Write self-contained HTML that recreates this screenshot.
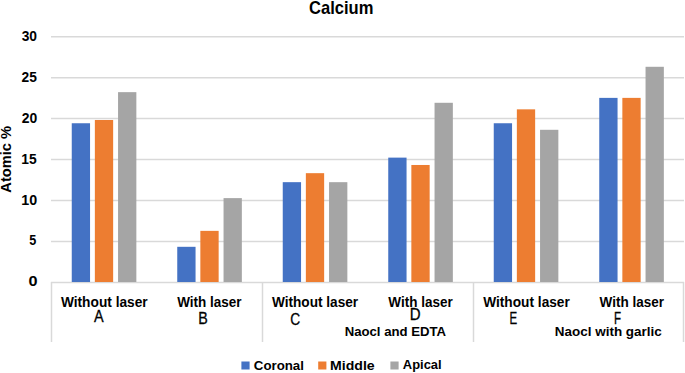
<!DOCTYPE html>
<html><head><meta charset="utf-8"><style>
html,body{margin:0;padding:0;background:#fff;}
body{width:685px;height:373px;overflow:hidden;}
svg{display:block;font-family:"Liberation Sans", sans-serif;}
</style></head><body>
<svg width="685" height="373" viewBox="0 0 685 373">
<rect width="685" height="373" fill="#fff"/>
<line x1="51" y1="241.45" x2="684" y2="241.45" stroke="#D9D9D9" stroke-width="1.5"/>
<line x1="51" y1="200.50" x2="684" y2="200.50" stroke="#D9D9D9" stroke-width="1.5"/>
<line x1="51" y1="159.55" x2="684" y2="159.55" stroke="#D9D9D9" stroke-width="1.5"/>
<line x1="51" y1="118.60" x2="684" y2="118.60" stroke="#D9D9D9" stroke-width="1.5"/>
<line x1="51" y1="77.65" x2="684" y2="77.65" stroke="#D9D9D9" stroke-width="1.5"/>
<line x1="51" y1="36.70" x2="684" y2="36.70" stroke="#D9D9D9" stroke-width="1.5"/>
<line x1="51" y1="282.5" x2="684" y2="282.5" stroke="#D9D9D9" stroke-width="1.5"/>
<rect x="71.75" y="123.25" width="18.3" height="158.75" fill="#4472C4"/>
<rect x="94.85" y="119.98" width="18.3" height="162.02" fill="#ED7D31"/>
<rect x="118.05" y="92.15" width="18.3" height="189.85" fill="#A5A5A5"/>
<rect x="177.25" y="246.81" width="18.3" height="35.19" fill="#4472C4"/>
<rect x="200.35" y="230.86" width="18.3" height="51.14" fill="#ED7D31"/>
<rect x="223.55" y="198.12" width="18.3" height="83.88" fill="#A5A5A5"/>
<rect x="282.75" y="182.17" width="18.3" height="99.83" fill="#4472C4"/>
<rect x="305.85" y="173.17" width="18.3" height="108.83" fill="#ED7D31"/>
<rect x="329.05" y="182.17" width="18.3" height="99.83" fill="#A5A5A5"/>
<rect x="388.25" y="157.62" width="18.3" height="124.38" fill="#4472C4"/>
<rect x="411.35" y="164.98" width="18.3" height="117.02" fill="#ED7D31"/>
<rect x="434.55" y="102.79" width="18.3" height="179.21" fill="#A5A5A5"/>
<rect x="493.75" y="123.25" width="18.3" height="158.75" fill="#4472C4"/>
<rect x="516.85" y="109.34" width="18.3" height="172.66" fill="#ED7D31"/>
<rect x="540.05" y="129.80" width="18.3" height="152.20" fill="#A5A5A5"/>
<rect x="599.25" y="97.88" width="18.3" height="184.12" fill="#4472C4"/>
<rect x="622.35" y="97.88" width="18.3" height="184.12" fill="#ED7D31"/>
<rect x="645.55" y="66.79" width="18.3" height="215.21" fill="#A5A5A5"/>
<line x1="51.5" y1="282" x2="51.5" y2="342" stroke="#D9D9D9" stroke-width="1.5"/>
<line x1="262.5" y1="282" x2="262.5" y2="342" stroke="#D9D9D9" stroke-width="1.5"/>
<line x1="473.5" y1="282" x2="473.5" y2="342" stroke="#D9D9D9" stroke-width="1.5"/>
<line x1="683.5" y1="282" x2="683.5" y2="342" stroke="#D9D9D9" stroke-width="1.5"/>
<text transform="translate(309.09,13.70) scale(0.9464,1)" font-size="17.5" font-weight="bold" fill="#000000">Calcium</text>
<text transform="translate(28.40,286.40) scale(1.1200,1)" font-size="14.5" font-weight="bold" fill="#000000">0</text>
<text transform="translate(29.26,245.49) scale(0.8702,1)" font-size="14.5" font-weight="bold" fill="#000000">5</text>
<text transform="translate(21.34,204.57) scale(0.9846,1)" font-size="14.5" font-weight="bold" fill="#000000">10</text>
<text transform="translate(21.36,163.66) scale(0.9546,1)" font-size="14.5" font-weight="bold" fill="#000000">15</text>
<text transform="translate(21.72,122.74) scale(0.9600,1)" font-size="14.5" font-weight="bold" fill="#000000">20</text>
<text transform="translate(21.52,81.83) scale(0.9508,1)" font-size="14.5" font-weight="bold" fill="#000000">25</text>
<text transform="translate(21.64,40.91) scale(0.9521,1)" font-size="14.5" font-weight="bold" fill="#000000">30</text>
<text transform="translate(60.90,306.60) scale(0.9810,1)" font-size="14" font-weight="bold" fill="#000000">Without laser</text>
<text transform="translate(177.20,306.60) scale(0.9651,1)" font-size="14" font-weight="bold" fill="#000000">With laser</text>
<text transform="translate(271.90,306.60) scale(0.9754,1)" font-size="14" font-weight="bold" fill="#000000">Without laser</text>
<text transform="translate(388.30,306.60) scale(0.9666,1)" font-size="14" font-weight="bold" fill="#000000">With laser</text>
<text transform="translate(483.20,306.60) scale(0.9788,1)" font-size="14" font-weight="bold" fill="#000000">Without laser</text>
<text transform="translate(599.60,306.60) scale(0.9666,1)" font-size="14" font-weight="bold" fill="#000000">With laser</text>
<text transform="translate(94.00,322.10) scale(0.9035,1)" font-size="16" font-weight="normal" fill="#000000" stroke="#000" stroke-width="0.3">A</text>
<text transform="translate(198.17,324.00) scale(0.8941,1)" font-size="16" font-weight="normal" fill="#000000" stroke="#000" stroke-width="0.3">B</text>
<text transform="translate(290.25,325.10) scale(0.8600,1)" font-size="16" font-weight="normal" fill="#000000" stroke="#000" stroke-width="0.3">C</text>
<text transform="translate(409.71,320.20) scale(0.9387,1)" font-size="16" font-weight="normal" fill="#000000" stroke="#000" stroke-width="0.3">D</text>
<text transform="translate(509.41,323.90) scale(0.7188,1)" font-size="16" font-weight="normal" fill="#000000" stroke="#000" stroke-width="0.3">E</text>
<text transform="translate(614.01,323.50) scale(0.7226,1)" font-size="16" font-weight="normal" fill="#000000" stroke="#000" stroke-width="0.3">F</text>
<text transform="translate(344.65,336.40) scale(0.9762,1)" font-size="13.5" font-weight="bold" fill="#000000">Naocl and EDTA</text>
<text transform="translate(554.83,336.30) scale(0.9981,1)" font-size="13.5" font-weight="bold" fill="#000000">Naocl with garlic</text>
<rect x="241.4" y="361.5" width="8.2" height="8" fill="#4472C4"/>
<rect x="318.2" y="361.5" width="8.2" height="8" fill="#ED7D31"/>
<rect x="390.4" y="361.5" width="8.2" height="8" fill="#A5A5A5"/>
<text transform="translate(253.81,369.50) scale(0.9838,1)" font-size="13.5" font-weight="bold" fill="#000000">Coronal</text>
<text transform="translate(330.09,369.50) scale(1.0441,1)" font-size="13.5" font-weight="bold" fill="#000000">Middle</text>
<text transform="translate(402.84,369.40) scale(0.9585,1)" font-size="13.5" font-weight="bold" fill="#000000">Apical</text>
<text transform="translate(11.3,192.69) rotate(-90) scale(1.0476,1)" font-size="14" font-weight="bold" fill="#000000">Atomic %</text>
</svg>
</body></html>
